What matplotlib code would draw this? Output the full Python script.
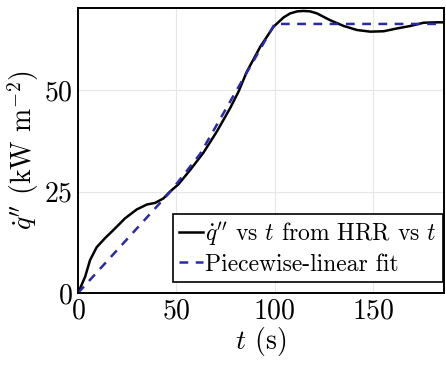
import numpy as np
import matplotlib
matplotlib.use('Agg')
import matplotlib.pyplot as plt

# q'' vs t from HRR vs t
t_hrr = [0, 3.6, 6.1, 9.5, 13.7, 18.8, 23.9, 29.9, 35, 39.2, 43.4, 46.8, 51.1,
         57, 63.8, 70.6, 77.4, 81.6, 85.9, 92.7, 99.4, 104.5, 107.9, 111.5,
         114.7, 118, 121.5, 128.3, 135.1, 141.9, 148.7, 155.4, 162.3, 169,
         175.8, 182.6, 187]
q_hrr = [0, 4.0, 8.1, 11.3, 13.5, 15.9, 18.4, 20.6, 21.8, 22.2, 23.3, 25.0, 26.8,
         30.3, 34.6, 39.8, 45.6, 49.6, 54.6, 60.7, 65.6, 67.9, 68.9, 69.4,
         69.5, 69.4, 68.9, 67.2, 65.8, 64.8, 64.4, 64.5, 65.2, 65.8,
         66.6, 66.7, 66.7]

# piecewise-linear fit
t_fit = [0, 47, 62, 100, 187]
q_fit = [0, 25, 34.2, 66.3, 66.3]

x_ticks = [0, 50, 100, 150]
y_ticks = [0, 25, 50]

plt.rcParams['font.family'] = 'serif'
plt.rcParams['font.serif'] = ['cmr10']
plt.rcParams['mathtext.fontset'] = 'cm'
plt.rcParams['axes.formatter.use_mathtext'] = True
plt.rcParams['axes.unicode_minus'] = False

fig = plt.figure(figsize=(4.46, 3.69), dpi=100)
ax = fig.add_axes([0.175, 0.206, 0.82, 0.772])

ax.plot(t_hrr, q_hrr, color='black', lw=1.8, label=r"$\dot{q}''$ vs $t$ from HRR vs $t$")
ax.plot(t_fit, q_fit, color='#2a2aa8', lw=1.8, ls=(0, (3.5, 3)), label='Piecewise-linear fit')

ax.set_xlim(0, 186)
ax.set_ylim(0, 70.2)
ax.set_xticks(x_ticks)
ax.set_yticks(y_ticks)
ax.tick_params(length=0, labelsize=20, pad=4)
ax.grid(True, color='#e6e6e6', lw=0.8)
ax.set_axisbelow(True)
for s in ax.spines.values():
    s.set_linewidth(1.4)

ax.set_xlabel(r'$t$ (s)', fontsize=20, labelpad=0)
ax.set_ylabel(r"$\dot{q}''$ (kW m$^{-2}$)", fontsize=20, labelpad=2)

leg = ax.legend(loc='lower right', bbox_to_anchor=(0.997, 0.04), fontsize=17,
                handlelength=1.0, handletextpad=0.1, borderpad=0.25, labelspacing=0.25,
                fancybox=False, framealpha=1, edgecolor='black', borderaxespad=0)
leg.get_frame().set_linewidth(1.2)

fig.savefig('out.png', dpi=100)
